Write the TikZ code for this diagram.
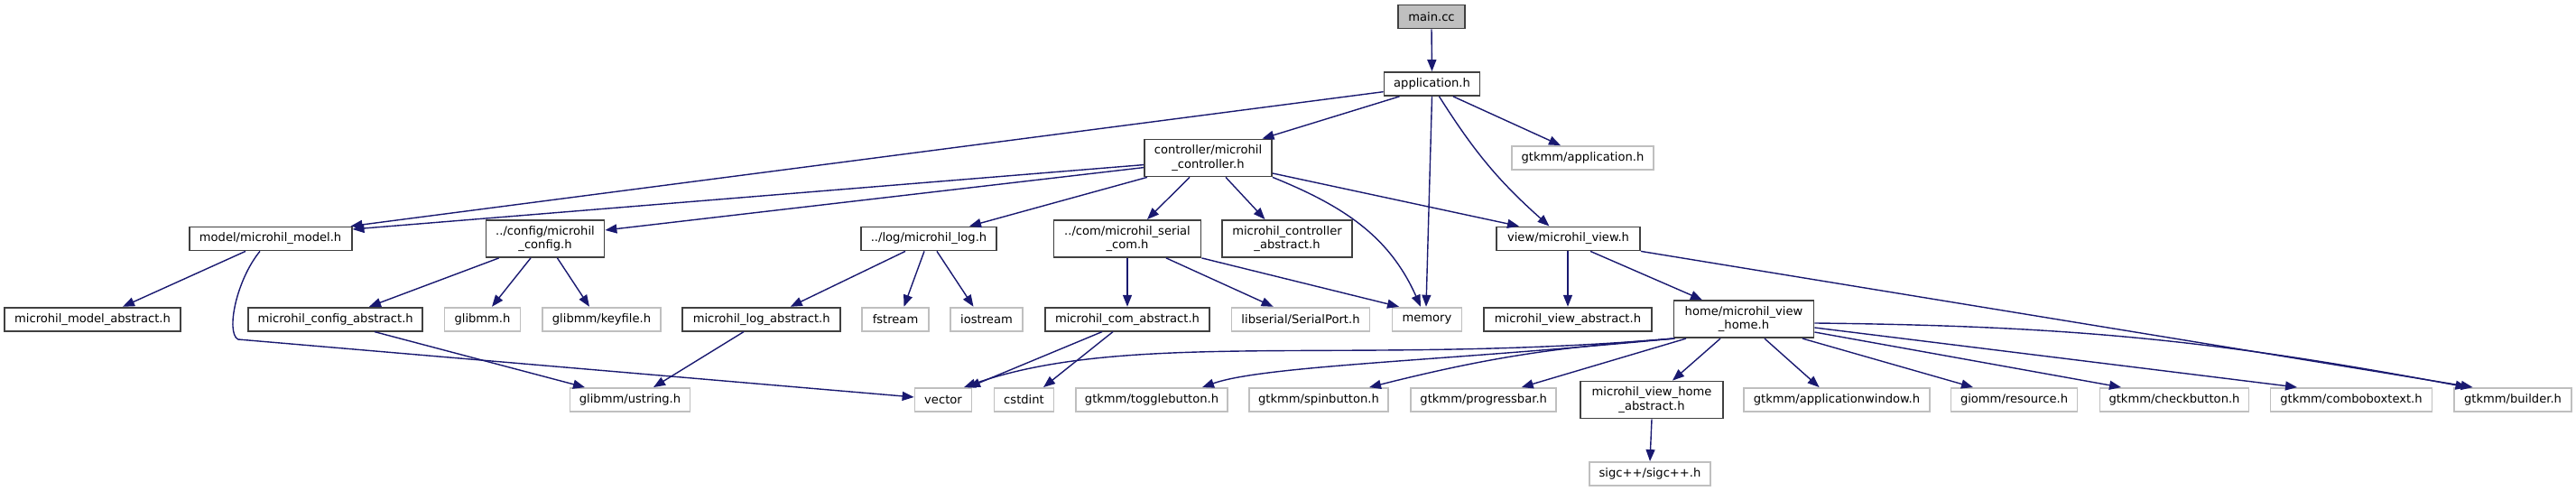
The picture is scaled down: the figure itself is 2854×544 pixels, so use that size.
\documentclass[tikz,border=0pt]{standalone}
\usepackage{fontspec}
\setmainfont{DejaVu Sans}
\usetikzlibrary{arrows.meta}
\definecolor{edgeblue}{HTML}{191970}
\definecolor{bdark}{HTML}{404040}
\definecolor{bgray}{HTML}{BFBFBF}
\begin{document}
\begin{tikzpicture}[x=0.5pt,y=-0.5pt,
  box/.style={draw=bdark, line width=0.9pt, rectangle, inner sep=1pt, font=\fontsize{6.55}{7.6}\selectfont, align=center, minimum height=13pt},
  ext/.style={box, draw=bgray},
  tall/.style={minimum height=20.5pt},
  wd/.style={minimum width=#1*0.5pt},
  dep/.style={draw=edgeblue, line width=0.7pt, -{Triangle[length=6.5pt,width=5pt]}},
]
\useasboundingbox (0,0) rectangle (2854,544);
% row 0
\node[box, wd=74, fill=bgray] (main) at (1586,18.5) {main.cc};
% row 1
\node[box, wd=106] (app) at (1586.5,93) {application.h};
% row 2
\node[box, tall, wd=141] (ctrl) at (1338.5,175) {controller/microhil\\\_controller.h};
\node[ext, wd=157] (gapp) at (1753.5,175) {gtkmm/application.h};
% row 3
\node[box, wd=180] (model) at (299.6,264.5) {model/microhil\_model.h};
\node[box, tall, wd=131] (config) at (604,264.5) {../config/microhil\\\_config.h};
\node[box, wd=150] (log) at (1029,264.5) {../log/microhil\_log.h};
\node[box, tall, wd=163] (com) at (1249,264.5) {../com/microhil\_serial\\\_com.h};
\node[box, tall, wd=144] (cabs) at (1426,264.5) {microhil\_controller\\\_abstract.h};
\node[box, wd=159] (view) at (1737.5,264.5) {view/microhil\_view.h};
% row 4
\node[box, wd=195] (mabs) at (102.5,353.7) {microhil\_model\_abstract.h};
\node[box, wd=193] (cfgabs) at (371.7,353.7) {microhil\_config\_abstract.h};
\node[ext, wd=84] (glibmm) at (534.5,353.7) {glibmm.h};
\node[ext, wd=131] (keyfile) at (666.5,353.7) {glibmm/keyfile.h};
\node[box, wd=175] (logabs) at (843.7,353.7) {microhil\_log\_abstract.h};
\node[ext, wd=74] (fstream) at (992,353.7) {fstream};
\node[ext, wd=80] (iostream) at (1093,353.7) {iostream};
\node[box, wd=182] (comabs) at (1249,353.7) {microhil\_com\_abstract.h};
\node[ext, wd=153] (serial) at (1441,353.7) {libserial/SerialPort.h};
\node[ext, wd=77] (memory) at (1581,353.7) {memory};
\node[box, wd=186] (viewabs) at (1737,353.7) {microhil\_view\_abstract.h};
\node[box, tall, wd=155] (home) at (1932,353.7) {home/microhil\_view\\\_home.h};
% row 5
\node[ext, wd=133] (ustring) at (698,443) {glibmm/ustring.h};
\node[ext, wd=63] (vector) at (1045,443) {vector};
\node[ext, wd=66] (cstdint) at (1134.5,443) {cstdint};
\node[ext, wd=168] (toggle) at (1276,443) {gtkmm/togglebutton.h};
\node[ext, wd=154] (spin) at (1461,443) {gtkmm/spinbutton.h};
\node[ext, wd=161] (progress) at (1643.7,443) {gtkmm/progressbar.h};
\node[box, tall, wd=158] (vhabs) at (1830,443) {microhil\_view\_home\\\_abstract.h};
\node[ext, wd=206] (appwin) at (2035,443) {gtkmm/applicationwindow.h};
\node[ext, wd=140] (resource) at (2231.5,443) {giomm/resource.h};
\node[ext, wd=165] (check) at (2409,443) {gtkmm/checkbutton.h};
\node[ext, wd=179] (combo) at (2605,443) {gtkmm/comboboxtext.h};
\node[ext, wd=130] (builder) at (2784,443) {gtkmm/builder.h};
% row 6
\node[ext, wd=134] (sigc) at (1828,525) {sigc++/sigc++.h};

% edges
\draw[dep] (main.south) -- (app.north);
\draw[dep] ([yshift=-4.35pt]app.west) -- ([xshift=-1pt]model.north east);
\draw[dep] ([xshift=-18pt]app.south) -- ([xshift=30pt]ctrl.north);
\draw[dep] (app.south) -- ([xshift=-0.5pt]memory.north);
\draw[dep] ([xshift=4pt]app.south) to[bend right=8] ([xshift=-10.5pt]view.north);
\draw[dep] ([xshift=11.75pt]app.south) -- ([xshift=-12.25pt]gapp.north);

\draw[dep] ([yshift=-3.8pt]ctrl.west) -- ([yshift=5.25pt]model.east);
\draw[dep] ([yshift=-5.3pt]ctrl.west) -- ([yshift=4.75pt]config.east);
\draw[dep] ([xshift=-33.75pt]ctrl.south) -- ([xshift=22.5pt]log.north);
\draw[dep] ([xshift=-10.25pt]ctrl.south) -- ([xshift=11pt]com.north);
\draw[dep] ([xshift=9.75pt]ctrl.south) -- ([xshift=-12.25pt]cabs.north);
\draw[dep] (ctrl.south east) to[out=-22,in=114] ([xshift=-3.5pt]memory.north);
\draw[dep] ([yshift=-8.5pt]ctrl.east) -- ([xshift=-27.25pt]view.north);

\coordinate (mvbend) at (263.6,376);
\draw[dep] ([xshift=-5.8pt]model.south) .. controls (262,310) and (250,368) .. (mvbend) -- ([yshift=1.5pt]vector.west);
\draw[dep] ([xshift=-13.8pt]model.south) -- ([xshift=16.75pt]mabs.north);

\draw[dep] ([xshift=-25.65pt]config.south) -- ([xshift=18.65pt]cfgabs.north);
\draw[dep] ([xshift=-8pt]config.south) -- ([xshift=5.25pt]glibmm.north);
\draw[dep] ([xshift=6.75pt]config.south) -- ([xshift=-6.75pt]keyfile.north);

\draw[dep] ([xshift=-13pt]log.south) -- ([xshift=16pt]logabs.north);
\draw[dep] ([xshift=-2.5pt]log.south) -- ([xshift=4.75pt]fstream.north);
\draw[dep] ([xshift=4.5pt]log.south) -- ([xshift=-7.25pt]iostream.north);

\draw[dep] ([xshift=21.65pt]cfgabs.south) -- ([xshift=-25pt]ustring.north);
\draw[dep] ([xshift=-9.85pt]logabs.south) -- ([xshift=13pt]ustring.north);

\draw[dep] (com.south) -- (comabs.north);
\draw[dep] ([xshift=21.5pt]com.south) -- ([xshift=-15.2pt]serial.north);
\draw[dep] (com.south east) -- ([xshift=-15.5pt]memory.north);

\draw[dep] ([xshift=-14pt]comabs.south) -- ([xshift=14pt]vector.north);
\draw[dep] ([xshift=-8pt]comabs.south) -- ([xshift=10.75pt]cstdint.north);

\draw[dep] (viewabs.north |- view.south) -- (viewabs.north);
\draw[dep] ([xshift=12.25pt]view.south) -- ([xshift=-23pt]home.north);
\draw[dep] (view.south east) -- ([xshift=-22.2pt]builder.north);

\draw[dep] (home.south west) .. controls (1500,405) and (1250,365) .. ([xshift=11.5pt]vector.north);
\draw[dep] (home.south west) .. controls (1600,400) and (1400,405) .. ([xshift=28pt]toggle.north);
\draw[dep] ([xshift=1pt]home.south west) to[bend right=5] ([xshift=28pt]spin.north);
\draw[dep] ([xshift=-32pt]home.south) -- ([xshift=21pt]progress.north);
\draw[dep] ([xshift=-13pt]home.south) -- ([xshift=11.5pt]vhabs.north);
\draw[dep] ([xshift=11.5pt]home.south) -- ([xshift=-9.7pt]appwin.north);
\draw[dep] ([xshift=32.5pt]home.south) -- ([xshift=-22.75pt]resource.north);
\draw[dep] ([yshift=-7.15pt]home.east) -- ([xshift=-29.5pt]check.north);
\draw[dep] ([yshift=-4.65pt]home.east) -- ([xshift=-30pt]combo.north);
\draw[dep] ([yshift=-2.15pt]home.east) to[bend left=5] ([xshift=-25.25pt]builder.north);

\draw[dep] (vhabs.south) -- (sigc.north);
\end{tikzpicture}
\end{document}
